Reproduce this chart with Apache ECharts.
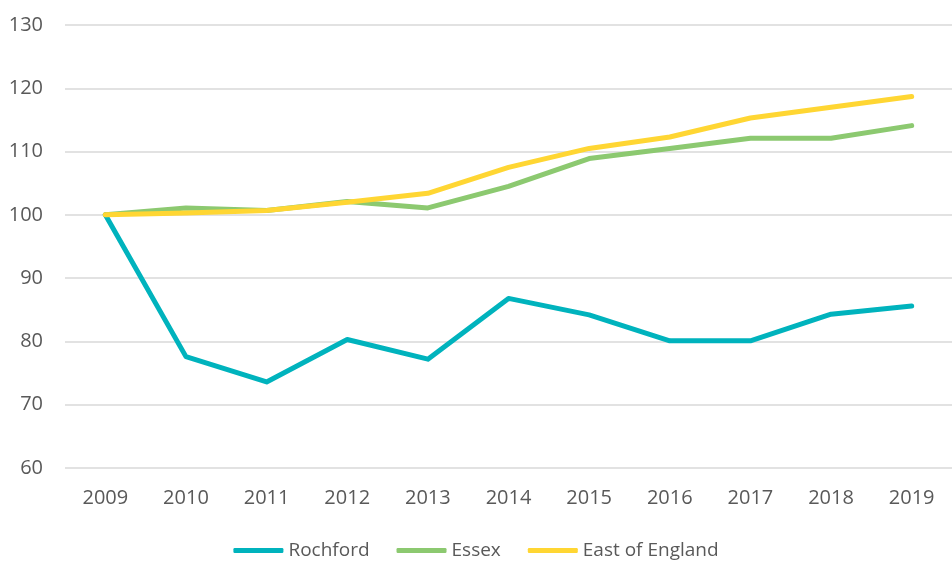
<!DOCTYPE html>
<html><head><meta charset="utf-8">
<script src="https://cdn.jsdelivr.net/npm/echarts@6/dist/echarts.min.js"></script>
<style>html,body{margin:0;padding:0;background:#fff}#c{width:952px;height:563px}</style>
</head><body><div id="c"></div>
<script>
const years = ['2009','2010','2011','2012','2013','2014','2015','2016','2017','2018','2019'];
const rochford = [100, 77.6, 73.6, 80.3, 77.2, 86.8, 84.2, 80.1, 80.1, 84.3, 85.6];
const essex = [100, 101.1, 100.7, 102.1, 101.1, 104.5, 108.9, 110.5, 112.1, 112.1, 114.1];
const eastOfEngland = [100, 100.3, 100.7, 102.0, 103.4, 107.5, 110.5, 112.3, 115.3, 117.0, 118.7];
const seriesNames = ['Rochford', 'Essex', 'East of England'];
const colors = ['#00B3BD', '#8CC970', '#FFD633'];
const font = '"Open Sans", "Liberation Sans", sans-serif';
const chart = echarts.init(document.getElementById('c'), null, {renderer: 'canvas'});
const mk = (name, data, color) => ({
  name, type: 'line', data, showSymbol: false, symbol: 'none',
  lineStyle: {width: 5, color, cap: 'round', join: 'round'},
  itemStyle: {color}
});
chart.setOption({
  animation: false,
  grid: {left: 65, right: 0, top: 25, bottom: 95, containLabel: false},
  legend: {
    bottom: -2, left: 'center', icon: 'roundRect', itemWidth: 50, itemHeight: 5, itemGap: 27,
    textStyle: {color: '#595959', fontSize: 19, fontFamily: font},
    data: seriesNames
  },
  xAxis: {
    type: 'category', data: years, boundaryGap: true,
    axisLine: {show: false}, axisTick: {show: false},
    axisLabel: {color: '#595959', fontSize: 20, fontFamily: font, margin: 20}
  },
  yAxis: {
    type: 'value', min: 60, max: 130, interval: 10,
    axisLine: {show: false}, axisTick: {show: false},
    axisLabel: {color: '#595959', fontSize: 20, fontFamily: font, margin: 22},
    splitLine: {lineStyle: {color: '#D9D9D9', width: 1.5}}
  },
  series: [
    mk(seriesNames[0], rochford, colors[0]),
    mk(seriesNames[1], essex, colors[1]),
    mk(seriesNames[2], eastOfEngland, colors[2])
  ]
});
</script></body></html>
